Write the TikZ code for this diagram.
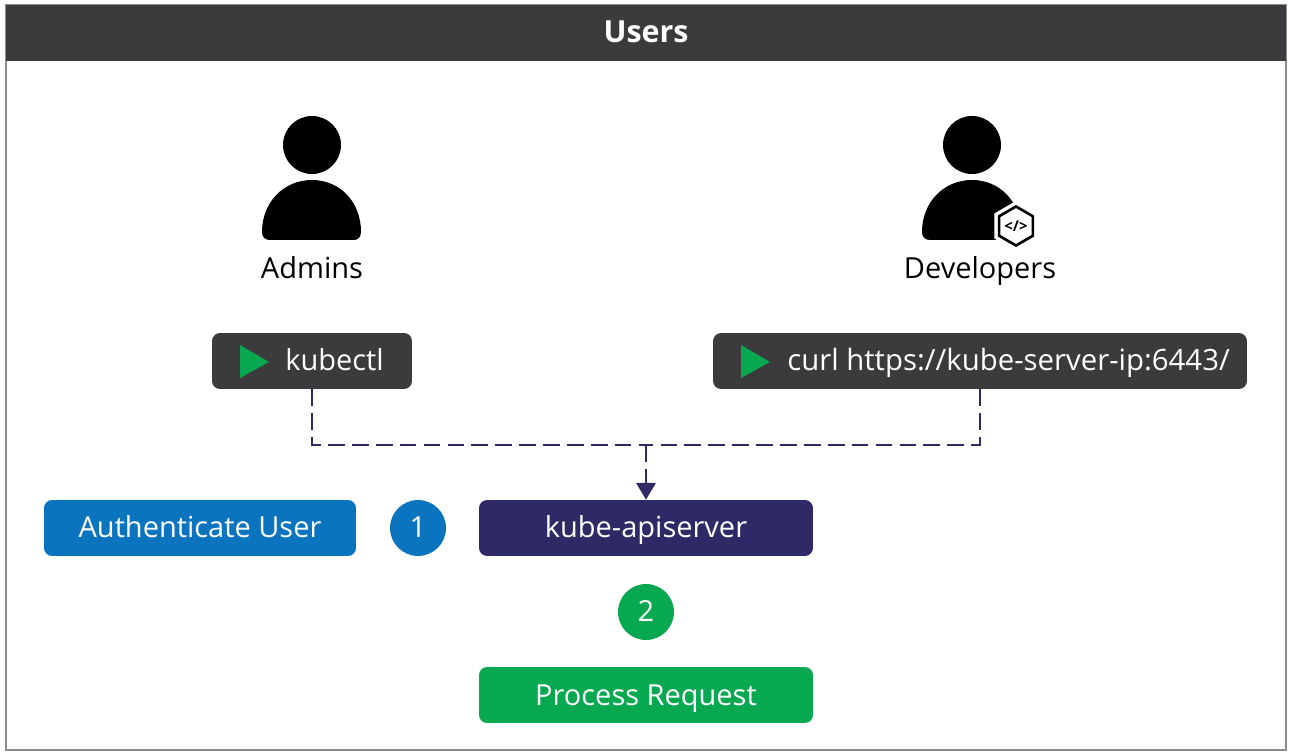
\documentclass[tikz,border=0pt]{standalone}
\usepackage{fontspec}
\setmainfont{Open Sans}
\usetikzlibrary{shapes.geometric}
\usetikzlibrary{arrows.meta}
\definecolor{darkbar}{HTML}{3B3B3D}
\definecolor{authblue}{HTML}{0A75BE}
\definecolor{apinavy}{HTML}{2E2A66}
\definecolor{okgreen}{HTML}{07A850}
\definecolor{framegray}{HTML}{8A8D8F}
\tikzset{
	labeltext/.style={inner sep=0pt,text height=0.5cm,text depth=0.1cm,font=\fontsize{16.5}{18}\selectfont},
	box/.style={shape=rectangle,rounded corners=0.16cm,minimum height=1.12cm,labeltext,text=white},
	stepcircle/.style={shape=circle,minimum size=1.12cm,labeltext,text=white},
	caption/.style={labeltext,text=black},
	flow/.style={draw=apinavy,line width=1.1pt,dash pattern=on 9.5pt off 4.1pt},
}
\begin{document}
\begin{tikzpicture}[x=0.02cm,y=-0.02cm]
	\useasboundingbox (0,0) rectangle (1291,756);
	\node[shape=rectangle,draw=framegray,line width=0.8pt,fill=white,minimum width=25.6cm,minimum height=14.9cm,inner sep=0pt] (frame) at (646,377.5) {};
	\node[shape=rectangle,fill=darkbar,minimum width=25.6cm,minimum height=1.12cm,inner sep=0pt,text depth=0.04cm,text=white,font=\fontsize{17.3}{18}\selectfont\bfseries] (users) at (646,33) {Users};

	% admin figure
	\fill[black] (312,145) circle (29);
	\fill[black] (262,232) .. controls (262,202) and (284,180) .. (312,180) .. controls (340,180) and (361,202) .. (361,232) .. controls (361,237) and (358,240) .. (354,240) -- (270,240) .. controls (265,240) and (262,237) .. (262,232) -- cycle;
	\node[caption] (admins) at (312,268.5) {Admins};

	% developer figure
	\fill[black] (972,145) circle (29);
	\fill[black] (922,232) .. controls (922,202) and (944,180) .. (972,180) .. controls (1000,180) and (1021,202) .. (1021,232) .. controls (1021,237) and (1018,240) .. (1014,240) -- (930,240) .. controls (925,240) and (922,237) .. (922,232) -- cycle;
	\node[shape=regular polygon,regular polygon sides=6,shape border rotate=30,draw=white,fill=white,line width=1.5pt,minimum size=0.94cm,inner sep=0pt] (hexback) at (1016,226) {};
	\node[shape=regular polygon,regular polygon sides=6,shape border rotate=30,draw=black,fill=white,line width=1.5pt,minimum size=0.78cm,inner sep=0pt,font=\fontsize{8.5}{9}\selectfont\bfseries] (hexcode) at (1016,226) {</>};
	\node[caption] (developers) at (980,268.5) {Developers};

	% commands
	\node[box,fill=darkbar,minimum width=4cm] (kubectl) at (312,361) {};
	\fill[okgreen] (240,345) -- (269,362) -- (240,378) -- cycle;
	\node[labeltext,anchor=west,text=white] (kubectltext) at (285,361) {kubectl};
	\node[box,fill=darkbar,minimum width=10.68cm] (curl) at (980,361) {};
	\fill[okgreen] (741,345) -- (770,362) -- (741,378) -- cycle;
	\node[labeltext,anchor=west,text=white,font=\fontsize{16.7}{18}\selectfont] (curltext) at (787,361) {curl https://kube-server-ip:6443/};

	% api server and steps
	\node[box,fill=apinavy,minimum width=6.68cm] (api) at (646,528) {kube-apiserver};
	\node[box,fill=authblue,minimum width=6.24cm] (auth) at (200,528) {Authenticate User};
	\node[stepcircle,fill=authblue] (one) at (418,528) {1};
	\node[stepcircle,fill=okgreen] (two) at (646,612) {2};
	\node[box,fill=okgreen,minimum width=6.68cm] (process) at (646,695) {Process Request};

	\coordinate (join) at (646,445);
	\draw[flow] (kubectl) |- (join);
	\draw[flow] (curl) |- (join);
	\draw[flow,-{Triangle[length=9.5pt,width=11pt]}] (join) -- (api);
\end{tikzpicture}
\end{document}
